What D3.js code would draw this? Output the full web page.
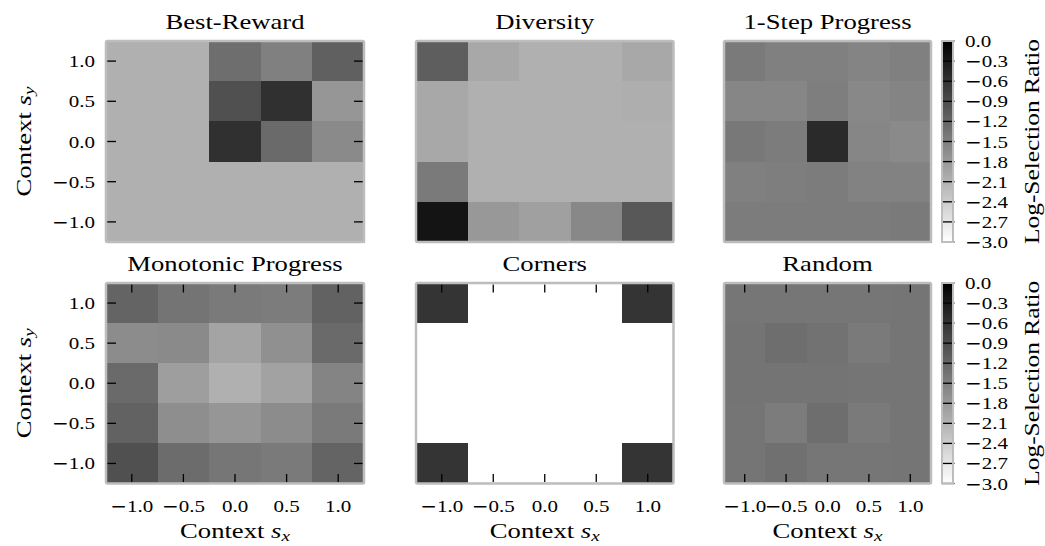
<!DOCTYPE html>
<html>
<head>
<meta charset="utf-8">
<script src="https://cdn.jsdelivr.net/npm/d3@7"></script>
<style>
  html, body { margin: 0; padding: 0; background: #fff; }
  svg { display: block; }
  text { font-family: "Liberation Serif", "Times New Roman", serif; fill: #000; }
</style>
</head>
<body>
<svg id="chart" width="1045" height="546"></svg>
<script>
// Context grid (cell centres) and tick labels
const xValues = [-1.0, -0.5, 0.0, 0.5, 1.0];
const yValues = [1.0, 0.5, 0.0, -0.5, -1.0];          // top row first
const colorbarTicks = [0.0, -0.3, -0.6, -0.9, -1.2, -1.5, -1.8, -2.1, -2.4, -2.7, -3.0];

const titles = ["Best-Reward", "Diversity", "1-Step Progress",
                "Monotonic Progress", "Corners", "Random"];

// Log-selection ratio per context cell; rows run from s_y = 1.0 down to -1.0
const bestReward = [
  [-2.07, -2.07, -1.29, -1.51, -1.13],
  [-2.07, -2.07, -0.94, -0.56, -1.76],
  [-2.07, -2.07, -0.56, -1.25, -1.62],
  [-2.07, -2.07, -2.07, -2.07, -2.07],
  [-2.07, -2.07, -2.07, -2.07, -2.07]
];
const diversity = [
  [-1.11, -1.98, -2.07, -2.07, -1.98],
  [-1.98, -2.07, -2.07, -2.07, -2.05],
  [-1.98, -2.07, -2.07, -2.07, -2.07],
  [-1.44, -2.07, -2.07, -2.07, -2.07],
  [-0.24, -1.79, -1.88, -1.60, -1.04]
];
const oneStepProgress = [
  [-1.44, -1.51, -1.51, -1.55, -1.51],
  [-1.58, -1.58, -1.48, -1.60, -1.55],
  [-1.41, -1.46, -0.49, -1.58, -1.62],
  [-1.51, -1.48, -1.46, -1.53, -1.53],
  [-1.46, -1.46, -1.46, -1.46, -1.44]
];
const monotonicProgress = [
  [-1.18, -1.36, -1.44, -1.46, -1.15],
  [-1.65, -1.62, -1.93, -1.69, -1.25],
  [-1.25, -1.86, -2.07, -1.91, -1.55],
  [-1.15, -1.67, -1.76, -1.65, -1.44],
  [-0.94, -1.27, -1.39, -1.44, -1.18]
];
const corners = [
  [-0.61, -3.0, -3.0, -3.0, -0.61],
  [-3.0, -3.0, -3.0, -3.0, -3.0],
  [-3.0, -3.0, -3.0, -3.0, -3.0],
  [-3.0, -3.0, -3.0, -3.0, -3.0],
  [-0.61, -3.0, -3.0, -3.0, -0.61]
];
const random = [
  [-1.39, -1.39, -1.39, -1.39, -1.38],
  [-1.36, -1.29, -1.34, -1.44, -1.38],
  [-1.36, -1.36, -1.36, -1.38, -1.38],
  [-1.38, -1.46, -1.29, -1.44, -1.38],
  [-1.38, -1.32, -1.39, -1.39, -1.38]
];

const matrices = [bestReward, diversity, oneStepProgress,
                  monotonicProgress, corners, random];

// ---------- layout ----------
const colX = [[106, 364], [416, 673.5], [724, 931]];
const rowY = [[41, 242], [283, 483.5]];
const cbX = [942, 953];

// which decorations each panel carries
const panelOpts = [
  { yTicks: true,  yLabels: true,  xTicks: false, xLabels: false, yTitle: true,  xTitle: false },
  { yTicks: false, yLabels: false, xTicks: false, xLabels: false, yTitle: false, xTitle: false },
  { yTicks: false, yLabels: false, xTicks: false, xLabels: false, yTitle: false, xTitle: false },
  { yTicks: true,  yLabels: true,  xTicks: true,  xLabels: true,  yTitle: true,  xTitle: true  },
  { yTicks: false, yLabels: false, xTicks: true,  xLabels: true,  yTitle: false, xTitle: true  },
  { yTicks: false, yLabels: false, xTicks: true,  xLabels: true,  yTitle: false, xTitle: true  }
];

const TITLE_SIZE = 21.5, TITLE_SX = 1.24;
const TICK_SIZE = 17.5, TICK_SX = 1.2;
const FRAME = "#bdbdbd";

const color = d3.scaleLinear().domain([-3, 0]).range(["#ffffff", "#000000"]).clamp(true);

const svg = d3.select("#chart");

// horizontally stretched text helper
function label(parent, x, y, str, size, sx, anchor, rotate) {
  const g = parent.append("g")
    .attr("transform", `translate(${x},${y})` + (rotate ? ` rotate(${rotate})` : "") + ` scale(${sx},1)`);
  const t = g.append("text")
    .attr("font-size", size)
    .attr("text-anchor", anchor || "middle");
  if (typeof str === "string") t.text(str);
  return t;
}

// numeric tick label with a long math minus
function numLabel(parent, x, y, v, anchor) {
  const t = label(parent, x, y, null, TICK_SIZE, TICK_SX, anchor);
  if (v < 0) t.append("tspan").attr("font-family", "DejaVu Sans").attr("font-size", "0.95em").text("\u2212");
  t.append("tspan").text(Math.abs(v).toFixed(1));
  return t;
}

function contextLabel(t, sub) {
  t.append("tspan").text("Context ");
  t.append("tspan").attr("font-style", "italic").text("s");
  t.append("tspan").attr("font-style", "italic").attr("font-size", "0.72em").attr("dy", "0.22em").text(sub);
}

matrices.forEach((m, i) => {
  const r = Math.floor(i / 3), c = i % 3;
  const [x0, x1] = colX[c], [y0, y1] = rowY[r];
  const opt = panelOpts[i];
  const x = d3.scaleBand().domain(xValues).range([x0, x1]);
  const y = d3.scaleBand().domain(yValues).range([y0, y1]);
  const g = svg.append("g");

  const cells = [];
  m.forEach((row, ri) => row.forEach((v, ci) => cells.push({ sx: xValues[ci], sy: yValues[ri], v })));

  g.selectAll("rect.cell").data(cells).join("rect")
    .attr("class", "cell")
    .attr("x", d => x(d.sx))
    .attr("y", d => y(d.sy))
    .attr("width", x.bandwidth() + 0.5)
    .attr("height", y.bandwidth() + 0.5)
    .attr("fill", d => color(d.v))
    .attr("shape-rendering", "crispEdges");

  // inward ticks
  const tk = 9;
  if (opt.yTicks) {
    yValues.forEach(v => {
      const yy = y(v) + y.bandwidth() / 2;
      g.append("line").attr("x1", x0 + 1).attr("x2", x0 + 1 + tk).attr("y1", yy).attr("y2", yy)
        .attr("stroke", "#000").attr("stroke-width", 1.3);
      g.append("line").attr("x1", x1 - 1).attr("x2", x1 - 1 - tk).attr("y1", yy).attr("y2", yy)
        .attr("stroke", "#000").attr("stroke-width", 1.3);
    });
  }
  if (opt.xTicks) {
    xValues.forEach(v => {
      const xx = x(v) + x.bandwidth() / 2;
      g.append("line").attr("x1", xx).attr("x2", xx).attr("y1", y0 + 1.5).attr("y2", y0 + 1.5 + tk - 1)
        .attr("stroke", "#000").attr("stroke-width", 1.3);
      g.append("line").attr("x1", xx).attr("x2", xx).attr("y1", y1 - 1.5).attr("y2", y1 - 1.5 - tk + 1)
        .attr("stroke", "#000").attr("stroke-width", 1.3);
    });
  }

  // frame
  g.append("rect").attr("x", x0).attr("y", y0).attr("width", x1 - x0).attr("height", y1 - y0)
    .attr("rx", 1.5).attr("fill", "none").attr("stroke", FRAME).attr("stroke-width", 2.5);

  // tick labels
  if (opt.yLabels) {
    yValues.forEach(v => numLabel(g, x0 - 11, y(v) + y.bandwidth() / 2 + 6, v, "end"));
  }
  if (opt.xLabels) {
    xValues.forEach(v => numLabel(g, x(v) + x.bandwidth() / 2, y1 + 28, v, "middle"));
  }

  // titles
  label(g, (x0 + x1) / 2, y0 - 12.5, titles[i], TITLE_SIZE, TITLE_SX, "middle");
  if (opt.yTitle) contextLabel(label(g, 31, (y0 + y1) / 2, null, TITLE_SIZE, TITLE_SX, "middle", -90), "y");
  if (opt.xTitle) contextLabel(label(g, (x0 + x1) / 2, y1 + 54.5, null, TITLE_SIZE, TITLE_SX, "middle"), "x");
});

// ---------- colour bars ----------
const defs = svg.append("defs");
const grad = defs.append("linearGradient").attr("id", "cbgrad")
  .attr("x1", 0).attr("y1", 1).attr("x2", 0).attr("y2", 0);
d3.range(0, 1.0001, 0.1).forEach(t => {
  grad.append("stop").attr("offset", t).attr("stop-color", color(-3 + 3 * t));
});

rowY.forEach(([y0, y1]) => {
  const g = svg.append("g");
  const cy = d3.scaleLinear().domain([-3, 0]).range([y1, y0]);
  g.append("rect").attr("x", cbX[0]).attr("y", y0).attr("width", cbX[1] - cbX[0]).attr("height", y1 - y0)
    .attr("fill", "url(#cbgrad)");
  colorbarTicks.forEach(v => {
    g.append("line").attr("x1", cbX[0]).attr("x2", cbX[1] + 1.5).attr("y1", cy(v)).attr("y2", cy(v))
      .attr("stroke", "#000").attr("stroke-width", 1.3);
    numLabel(g, 965, cy(v) + 6, v, "start");
  });
  g.append("rect").attr("x", cbX[0]).attr("y", y0).attr("width", cbX[1] - cbX[0]).attr("height", y1 - y0)
    .attr("fill", "none").attr("stroke", FRAME).attr("stroke-width", 2);
  label(g, 1039, (y0 + y1) / 2, "Log-Selection Ratio", TITLE_SIZE, 1.18, "middle", -90);
});
</script>
</body>
</html>
